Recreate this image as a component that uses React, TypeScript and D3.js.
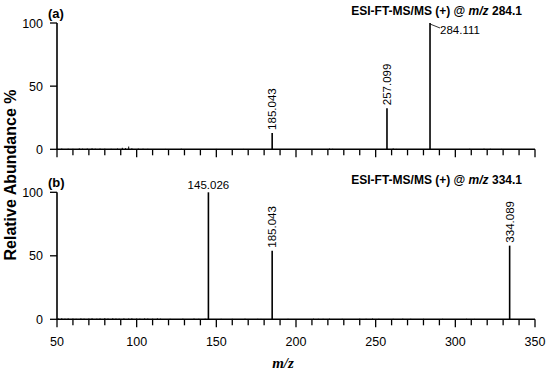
import * as d3 from 'd3';

// Panel (a): precursor m/z 284.1
const peaksA_mz = [185.043, 257.099, 284.111];
const peaksA_ab = [13, 32.5, 100];
const peaksA_labels = ['185.043', '257.099', '284.111'];
const noiseA: [number, number][] = [
  [53, 0.6], [57, 0.5], [60, 0.4], [64, 0.7], [66, 0.5], [69, 0.6], [72, 0.8], [74, 0.5],
  [77, 0.6], [80, 0.5], [84, 0.4], [88, 0.6], [91, 1.2], [93, 0.9], [95, 2.2], [97, 0.8],
  [101, 0.6], [104, 0.5], [107, 0.4], [118, 0.3], [128, 0.5], [150, 0.3], [167, 0.3],
  [221, 0.6], [223, 0.4], [261, 0.7], [263, 0.3], [309, 0.4], [318, 0.5], [322, 0.4], [329, 0.3]
];

// Panel (b): precursor m/z 334.1
const peaksB_mz = [145.026, 185.043, 334.089];
const peaksB_ab = [100, 54, 58];
const peaksB_labels = ['145.026', '185.043', '334.089'];
const noiseB: [number, number][] = [
  [51, 0.6], [53, 0.8], [55, 0.5], [57, 0.7], [60, 0.6], [62, 0.4], [65, 0.7], [67, 0.5],
  [70, 0.6], [72, 0.8], [75, 0.5], [77, 0.7], [80, 0.9], [82, 0.6], [85, 0.8], [87, 0.6],
  [89, 0.5], [92, 0.7], [95, 0.6], [97, 0.8], [100, 0.6], [102, 0.5], [105, 0.7], [107, 0.6],
  [110, 0.5], [113, 0.7], [115, 0.5], [121, 0.4], [129, 0.5], [136, 0.6], [139, 0.4],
  [143, 0.5], [153, 0.4], [160, 0.4], [168, 0.5], [176, 0.4], [178, 0.3], [195, 0.4],
  [211, 0.5], [214, 0.4], [217, 0.4], [221, 0.5], [229, 0.4], [240, 0.5], [244, 0.4],
  [248, 0.6], [252, 0.4], [261, 0.4], [267, 0.5], [272, 0.4], [280, 0.4], [292, 0.4],
  [307, 0.4], [312, 0.3]
];

const titles = ['284.1', '334.1'];
const yTicks = [0, 50, 100];
const xTicks = d3.range(50, 351, 10);
const xLabelTicks = [50, 100, 150, 200, 250, 300, 350];

const W = 550;
const H = 371;
const sans = 'Arial, "Liberation Sans", Helvetica, sans-serif';

const x = d3.scaleLinear().domain([50, 350]).range([57, 535]);

function Panel({ y0, y1, tag, precursor, mz, ab, labels, noise, showX, labelModes }: {
  y0: number; y1: number; tag: string; precursor: string;
  mz: number[]; ab: number[]; labels: string[]; noise: [number, number][];
  showX: boolean; labelModes: string[];
}) {
  const y = d3.scaleLinear().domain([0, 100]).range([y0, y1]);
  const base = y(0);
  return (
    <g>
      {/* noise */}
      {noise.map(([m, a], i) => (
        <line key={'n' + i} x1={x(m)} x2={x(m)} y1={base} y2={y(a)} stroke="#000" strokeWidth={1} />
      ))}
      {/* peaks */}
      {mz.map((m, i) => (
        <line key={'p' + i} x1={x(m)} x2={x(m)} y1={base} y2={y(ab[i])} stroke="#000" strokeWidth={1.6} />
      ))}
      {mz.map((m, i) => {
        const px = x(m);
        const py = y(ab[i]);
        if (labelModes[i] === 'v') {
          return (
            <text key={'l' + i} transform={`translate(${px},${py - 3}) rotate(-90)`} dy="0.35em"
              fontFamily={sans} fontSize={11.5} fill="#000">{labels[i]}</text>
          );
        }
        if (labelModes[i] === 'lead') {
          return (
            <g key={'l' + i}>
              <line x1={px} y1={py + 1} x2={px + 10} y2={py + 5} stroke="#000" strokeWidth={0.8} />
              <text x={px + 10} y={py + 11} fontFamily={sans} fontSize={11.5} fill="#000">{labels[i]}</text>
            </g>
          );
        }
        return (
          <text key={'l' + i} x={px} y={py - 3} textAnchor="middle"
            fontFamily={sans} fontSize={11.5} fill="#000">{labels[i]}</text>
        );
      })}
      {/* axes */}
      <line x1={x(50)} x2={x(350)} y1={base} y2={base} stroke="#000" strokeWidth={1.6} />
      <line x1={x(50)} x2={x(50)} y1={base} y2={y(100)} stroke="#000" strokeWidth={1.6} />
      {xTicks.map(t => (
        <line key={'xt' + t} x1={x(t)} x2={x(t)} y1={base} y2={base + (t % 50 === 0 ? 8 : 6)}
          stroke="#000" strokeWidth={1.3} />
      ))}
      {yTicks.map(t => (
        <g key={'yt' + t}>
          <line x1={x(50) - 7} x2={x(50)} y1={y(t)} y2={y(t)} stroke="#000" strokeWidth={1.3} />
          <text x={x(50) - 14} y={y(t)} dy="0.36em" textAnchor="end" fontFamily={sans} fontSize={12.5}
            fill="#000">{t}</text>
        </g>
      ))}
      {showX && xLabelTicks.map(t => (
        <text key={'xl' + t} x={x(t)} y={base + 27} textAnchor="middle" fontFamily={sans} fontSize={12.5}
          fill="#000">{t}</text>
      ))}
      <text x={48} y={y(100) - 5} fontFamily={sans} fontSize={13} fontWeight="bold" fill="#000">{tag}</text>
      <text x={522} y={y(100) - 8} textAnchor="end" fontFamily={sans} fontSize={12} fontWeight="bold" fill="#000">
        ESI-FT-MS/MS (+) @ <tspan fontStyle="italic">m/z</tspan> {precursor}
      </text>
    </g>
  );
}

export default function App() {
  return (
    <div style={{ position: 'absolute', left: 0, top: 0, background: '#fff' }}>
      <svg width={W} height={H} style={{ display: 'block' }}>
        <rect width={W} height={H} fill="#fff" />
        <Panel y0={149.3} y1={23} tag="(a)" precursor={titles[0]} mz={peaksA_mz} ab={peaksA_ab}
          labels={peaksA_labels} noise={noiseA} showX={false} labelModes={['v', 'v', 'lead']} />
        <Panel y0={319.3} y1={192.3} tag="(b)" precursor={titles[1]} mz={peaksB_mz} ab={peaksB_ab}
          labels={peaksB_labels} noise={noiseB} showX={true} labelModes={['h', 'v', 'v']} />
        <text transform="translate(15.5,175) rotate(-90)" textAnchor="middle" fontFamily={sans}
          fontSize={16} fontWeight="bold" fill="#000">Relative Abundance %</text>
        <text x={283} y={368} textAnchor="middle" fontFamily='"Liberation Serif", "Times New Roman", serif'
          fontSize={15} fontStyle="italic" fontWeight="bold" fill="#000">m/z</text>
      </svg>
    </div>
  );
}
